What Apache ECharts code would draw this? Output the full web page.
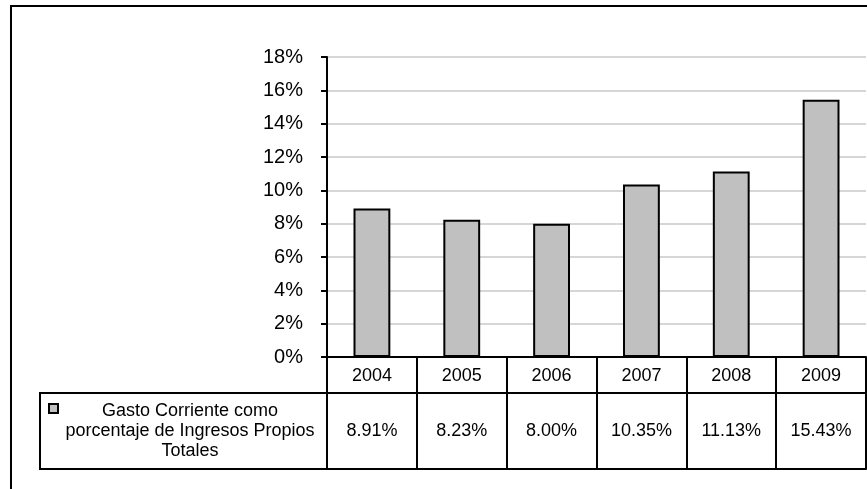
<!DOCTYPE html>
<html>
<head>
<meta charset="utf-8">
<script src="https://cdn.jsdelivr.net/npm/echarts@6/dist/echarts.min.js"></script>
<style>
  html, body { margin: 0; padding: 0; background: #ffffff; }
  #chart { width: 867px; height: 489px; }
</style>
</head>
<body>
<div id="chart"></div>
<script>
// Gasto corriente como porcentaje de ingresos propios totales, 2004-2009
const years = ['2004', '2005', '2006', '2007', '2008', '2009'];
const gastoPct = [8.91, 8.23, 8.00, 10.35, 11.13, 15.43];
const tickValues = [0, 2, 4, 6, 8, 10, 12, 14, 16, 18];
const seriesName = 'Gasto Corriente como\nporcentaje de Ingresos Propios\nTotales';

const FONT = '"Liberation Sans", Arial, sans-serif';
const FS = 18;      // table and legend text
const FS_Y = 20;    // value axis labels
const BAR_FILL = '#c0c0c0';

const chart = echarts.init(document.getElementById('chart'), null, { renderer: 'canvas' });

// Layout of the plot and the data table beneath it
const plotLeft = 327, plotTop = 57, plotBottomY = 357, plotRight = 866;
const row1H = 36, row2H = 76;
const legendCellLeft = 40;

const option = {
  backgroundColor: '#ffffff',
  animation: false,
  textStyle: { fontFamily: FONT },
  grid: {
    left: plotLeft,
    right: 867 - plotRight,
    top: plotTop,
    bottom: 489 - plotBottomY,
    containLabel: false
  },
  yAxis: {
    type: 'value',
    min: tickValues[0],
    max: tickValues[tickValues.length - 1],
    interval: 2,
    axisLine: { show: true, lineStyle: { color: '#000000', width: 2 } },
    axisTick: { show: true, inside: false, length: 6, lineStyle: { color: '#000000', width: 2 } },
    axisLabel: {
      margin: 24,
      color: '#000000',
      fontSize: FS_Y,
      fontFamily: FONT,
      formatter: v => v + '%'
    },
    splitLine: { show: true, lineStyle: { color: '#c8c8c8', width: 1.5 } }
  },
  xAxis: [
    {
      // year row of the data table
      type: 'category',
      data: years,
      position: 'bottom',
      boundaryGap: true,
      axisLine: { show: true, lineStyle: { color: '#000000', width: 2 } },
      axisTick: { show: true, interval: 0, alignWithLabel: false, inside: false, length: row1H, lineStyle: { color: '#000000', width: 2 } },
      axisLabel: { interval: 0, margin: 10, color: '#000000', fontSize: FS, fontFamily: FONT },
      splitLine: { show: false }
    },
    {
      // value row of the data table
      type: 'category',
      data: years,
      position: 'bottom',
      offset: row1H,
      boundaryGap: true,
      axisLine: { show: true, lineStyle: { color: '#000000', width: 2 } },
      axisTick: { show: true, interval: 0, alignWithLabel: false, inside: false, length: row2H, lineStyle: { color: '#000000', width: 2 } },
      axisLabel: {
        interval: 0,
        margin: 29,
        color: '#000000',
        fontSize: FS,
        fontFamily: FONT,
        formatter: (v, i) => gastoPct[i].toFixed(2) + '%'
      },
      splitLine: { show: false }
    },
    {
      // bottom edge of the data table
      type: 'category',
      data: years,
      position: 'bottom',
      offset: row1H + row2H,
      axisLine: { show: true, lineStyle: { color: '#000000', width: 2 } },
      axisTick: { show: false },
      axisLabel: { show: false },
      splitLine: { show: false }
    }
  ],
  series: [
    {
      name: seriesName,
      type: 'bar',
      xAxisIndex: 0,
      data: gastoPct,
      barWidth: '41%',
      itemStyle: { color: BAR_FILL, borderColor: '#000000', borderWidth: 2 }
    }
  ],
  graphic: [
    // outer chart frame
    {
      type: 'rect',
      silent: true,
      shape: { x: 11, y: 6, width: 900, height: 600 },
      style: { fill: 'none', stroke: '#000000', lineWidth: 2 }
    },
    // series cell of the data table
    {
      type: 'rect',
      silent: true,
      shape: { x: legendCellLeft, y: plotBottomY + row1H, width: plotLeft - legendCellLeft, height: row2H },
      style: { fill: 'none', stroke: '#000000', lineWidth: 2 }
    },
    // legend key
    {
      type: 'rect',
      silent: true,
      shape: { x: 49, y: 404, width: 9, height: 9 },
      style: { fill: BAR_FILL, stroke: '#000000', lineWidth: 2 }
    },
    {
      type: 'text',
      silent: true,
      x: 190,
      y: 431,
      style: {
        text: seriesName,
        fill: '#000000',
        font: FS + 'px ' + FONT,
        align: 'center',
        verticalAlign: 'middle',
        lineHeight: 20
      }
    }
  ]
};

chart.setOption(option);
</script>
</body>
</html>
